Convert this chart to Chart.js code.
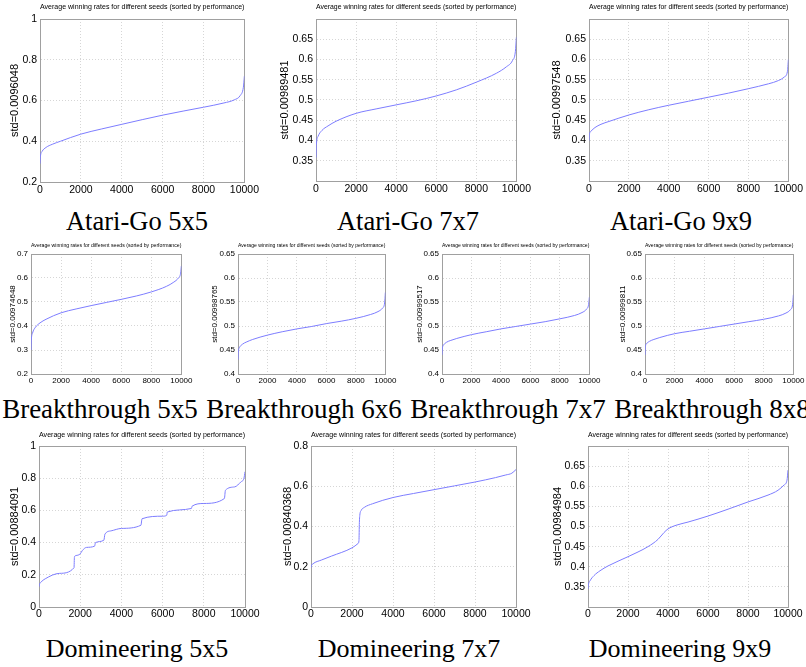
<!DOCTYPE html>
<html>
<head>
<meta charset="utf-8">
<script src="https://cdn.jsdelivr.net/npm/chart.js@4.4.0/dist/chart.umd.min.js"></script>
<style>
  body { margin: 0; background: #fff; }
  #fig { position: relative; width: 806px; height: 667px; overflow: hidden; }
  #fig canvas { position: absolute; }
  .cap { position: absolute; width: 260px; margin-left: -130px; text-align: center; white-space: nowrap;
         font-family: "Liberation Serif", "Times New Roman", serif; line-height: 26px; color: #000; }
</style>
</head>
<body>
<div id="fig"></div>
<script>
const seedRank = [0, 20, 100, 300, 600, 1000, 2000, 3000, 4000, 5000, 6000, 7000, 8000, 9000, 9500, 9800, 9950, 10000];

const atariGo5 = [0.29, 0.325, 0.35, 0.37, 0.385, 0.40, 0.435, 0.46, 0.483, 0.506, 0.528, 0.548, 0.567, 0.588, 0.603, 0.625, 0.665, 0.72];
const atariGo7 = [0.358, 0.39, 0.41, 0.425, 0.436, 0.4475, 0.467, 0.478, 0.488, 0.498, 0.51, 0.525, 0.544, 0.566, 0.582, 0.597, 0.62, 0.655];
const atariGo9 = [0.40, 0.415, 0.423, 0.432, 0.44, 0.447, 0.463, 0.476, 0.487, 0.497, 0.507, 0.517, 0.528, 0.54, 0.548, 0.557, 0.57, 0.60];
const breakthrough5 = [0.30, 0.34, 0.37, 0.395, 0.413, 0.428, 0.455, 0.471, 0.485, 0.498, 0.511, 0.525, 0.542, 0.565, 0.583, 0.60, 0.62, 0.65];
const breakthrough6 = [0.43, 0.445, 0.455, 0.462, 0.467, 0.472, 0.481, 0.488, 0.494, 0.499, 0.505, 0.51, 0.516, 0.524, 0.53, 0.537, 0.548, 0.57];
const breakthrough7 = [0.44, 0.452, 0.46, 0.466, 0.47, 0.474, 0.482, 0.488, 0.494, 0.499, 0.504, 0.509, 0.515, 0.522, 0.528, 0.535, 0.545, 0.56];
const breakthrough8 = [0.44, 0.455, 0.463, 0.468, 0.472, 0.476, 0.484, 0.489, 0.494, 0.499, 0.504, 0.509, 0.514, 0.521, 0.527, 0.534, 0.545, 0.565];

// domineering curves have jumps, so they get their own x
const domi5Rank = [0, 20, 100, 300, 1000, 1700, 1720, 1800, 2000, 2100, 2300, 2700, 2740, 3150, 3200, 3500, 4000, 4950, 5000, 6000, 6200, 6230, 7400, 7430, 8000, 9000, 9050, 9500, 9800, 9950, 10000];
const domineering5 = [0.126, 0.14, 0.155, 0.175, 0.209, 0.244, 0.31, 0.32, 0.33, 0.35, 0.37, 0.378, 0.40, 0.415, 0.452, 0.473, 0.488, 0.508, 0.548, 0.564, 0.57, 0.59, 0.612, 0.626, 0.643, 0.674, 0.725, 0.746, 0.777, 0.80, 0.84];
const domi7Rank = [0, 20, 100, 500, 1000, 2000, 2300, 2340, 2360, 2380, 2450, 2600, 3000, 4000, 5000, 6000, 7000, 8000, 9000, 9500, 9800, 10000];
const domineering7 = [0.195, 0.205, 0.215, 0.233, 0.253, 0.294, 0.316, 0.33, 0.42, 0.455, 0.48, 0.495, 0.513, 0.544, 0.564, 0.583, 0.602, 0.621, 0.643, 0.656, 0.665, 0.683];
const domi9Rank = [0, 20, 100, 300, 600, 1000, 2000, 3000, 3500, 3800, 4000, 4400, 5000, 6000, 7000, 8000, 9000, 9500, 9800, 9950, 10000];
const domineering9 = [0.345, 0.355, 0.365, 0.378, 0.39, 0.402, 0.425, 0.45, 0.468, 0.485, 0.494, 0.503, 0.511, 0.526, 0.543, 0.561, 0.578, 0.59, 0.603, 0.615, 0.64];

const games = ['Atari-Go 5x5', 'Atari-Go 7x7', 'Atari-Go 9x9',
  'Breakthrough 5x5', 'Breakthrough 6x6', 'Breakthrough 7x7', 'Breakthrough 8x8',
  'Domineering 5x5', 'Domineering 7x7', 'Domineering 9x9'];
const stdLabels = ['std=0.0096048', 'std=0.00989481', 'std=0.00997548',
  'std=0.00974648', 'std=0.00998765', 'std=0.00999517', 'std=0.00999811',
  'std=0.00884091', 'std=0.00840368', 'std=0.00984984'];
const seriesX = [seedRank, seedRank, seedRank, seedRank, seedRank, seedRank, seedRank, domi5Rank, domi7Rank, domi9Rank];
const seriesY = [atariGo5, atariGo7, atariGo9, breakthrough5, breakthrough6, breakthrough7, breakthrough8, domineering5, domineering7, domineering9];

// tick labels
const xTicks = [0, 2000, 4000, 6000, 8000, 10000];
const yTicks = [
  [0.2, 0.4, 0.6, 0.8, 1],
  [0.35, 0.4, 0.45, 0.5, 0.55, 0.6, 0.65],
  [0.35, 0.4, 0.45, 0.5, 0.55, 0.6, 0.65],
  [0.2, 0.3, 0.4, 0.5, 0.6, 0.7],
  [0.4, 0.45, 0.5, 0.55, 0.6, 0.65],
  [0.4, 0.45, 0.5, 0.55, 0.6, 0.65],
  [0.4, 0.45, 0.5, 0.55, 0.6, 0.65],
  [0, 0.2, 0.4, 0.6, 0.8, 1],
  [0, 0.2, 0.4, 0.6, 0.8],
  [0.35, 0.4, 0.45, 0.5, 0.55, 0.6, 0.65]
];
const yLimits = [[0.2, 1], [0.3, 0.7], [0.3, 0.7], [0.2, 0.7], [0.4, 0.65], [0.4, 0.65], [0.4, 0.65], [0, 1], [0, 0.8], [0.3, 0.7]];
const titleText = 'Average winning rates for different seeds (sorted by performance)';

// layout: plot box of each panel in page pixels, gap = ylabel centre left of the box
const panels = [
  { row: 0, l: 40, t: 19, r: 245, b: 182, gap: 25, cx: 137 },
  { row: 0, l: 316, t: 19, r: 517, b: 181, gap: 31, cx: 408 },
  { row: 0, l: 589, t: 19, r: 789, b: 181, gap: 32, cx: 681 },
  { row: 1, l: 31, t: 254, r: 183, b: 374, gap: 18, cx: 100 },
  { row: 1, l: 238, t: 254, r: 387, b: 374, gap: 23, cx: 304 },
  { row: 1, l: 442, t: 254, r: 591, b: 374, gap: 22, cx: 508 },
  { row: 1, l: 645, t: 254, r: 795, b: 374, gap: 22, cx: 712 },
  { row: 2, l: 39, t: 446, r: 245, b: 607, gap: 24, cx: 137 },
  { row: 2, l: 311, t: 446, r: 516, b: 607, gap: 23, cx: 409 },
  { row: 2, l: 588, t: 446, r: 788, b: 607, gap: 30, cx: 680 }
];
const rows = [
  { tick: 10.5, ylab: 11, title: 7.3, leftW: 40, topH: 19, rightW: 16, bottomH: 20, titleY: 7, xPad: 2, capTop: 208, capSize: 26.5 },
  { tick: 8, ylab: 8, title: 5.5, leftW: 30, topH: 14, rightW: 11, bottomH: 16, titleY: 5, xPad: 1.5, capTop: 396, capSize: 27 },
  { tick: 10.5, ylab: 11, title: 7.4, leftW: 40, topH: 18, rightW: 16, bottomH: 20, titleY: 7, xPad: 1, capTop: 636, capSize: 26 }
];

const lineBlue = '#7d7dff';
const gridGrey = '#d6d6d6';
const frameGrey = '#a0a0a0';

Chart.defaults.font.family = '"Liberation Sans", Arial, Helvetica, sans-serif';
Chart.defaults.color = '#000';

const fig = document.getElementById('fig');

function drawPanel(i) {
  const p = panels[i];
  const st = rows[p.row];
  const cv = document.createElement('canvas');
  cv.width = st.leftW + (p.r - p.l) + st.rightW;
  cv.height = st.topH + (p.b - p.t) + st.bottomH;
  cv.style.left = (p.l - st.leftW) + 'px';
  cv.style.top = (p.t - st.topH) + 'px';
  fig.appendChild(cv);

  const cap = document.createElement('div');
  cap.className = 'cap';
  cap.textContent = games[i];
  cap.style.left = p.cx + 'px';
  cap.style.top = st.capTop + 'px';
  cap.style.fontSize = st.capSize + 'px';
  fig.appendChild(cap);

  const pts = seriesX[i].map((x, k) => ({ x: x, y: seriesY[i][k] }));

  new Chart(cv, {
    type: 'line',
    data: {
      datasets: [{
        data: pts,
        xAxisID: 'x',
        yAxisID: 'y',
        borderColor: lineBlue,
        borderWidth: 1,
        pointRadius: 0,
        fill: false,
        cubicInterpolationMode: 'monotone'
      }]
    },
    options: {
      responsive: false,
      animation: false,
      devicePixelRatio: 1,
      layout: { padding: 0 },
      plugins: { legend: { display: false }, tooltip: { enabled: false } },
      scales: {
        x: {
          type: 'linear', position: 'bottom', min: 0, max: 10000,
          afterBuildTicks: s => { s.ticks = xTicks.map(v => ({ value: v })); },
          afterFit: s => { s.height = st.bottomH; },
          ticks: { autoSkip: false, maxRotation: 0, padding: st.xPad, font: { size: st.tick }, callback: v => String(v) },
          grid: { color: gridGrey, drawTicks: false },
          border: { display: true, color: frameGrey, dash: [1, 2] }
        },
        y: {
          type: 'linear', position: 'left', min: yLimits[i][0], max: yLimits[i][1],
          afterBuildTicks: s => { s.ticks = yTicks[i].map(v => ({ value: v })); },
          afterFit: s => { s.width = st.leftW; },
          ticks: { autoSkip: false, padding: 3, font: { size: st.tick }, callback: v => String(v) },
          grid: { color: gridGrey, drawTicks: false },
          border: { display: true, color: frameGrey, dash: [1, 2] },
          title: {
            display: true, text: stdLabels[i],
            font: { size: st.ylab, lineHeight: 1 },
            padding: { top: st.leftW - p.gap - st.ylab / 2, bottom: 0 }
          }
        },
        // top axis: carries the small title and the upper frame line
        x2: {
          type: 'linear', position: 'top', min: 0, max: 1,
          afterFit: s => { s.height = st.topH; },
          ticks: { display: false },
          grid: { display: false, drawTicks: false },
          border: { display: true, color: frameGrey },
          title: {
            display: true, text: titleText,
            font: { size: st.title, lineHeight: 1 },
            padding: { top: st.titleY - st.title / 2, bottom: 0 }
          }
        },
        // right axis: only the frame line
        y2: {
          type: 'linear', position: 'right', min: 0, max: 1,
          afterFit: s => { s.width = st.rightW; },
          ticks: { display: false },
          grid: { display: false, drawTicks: false },
          border: { display: true, color: frameGrey }
        }
      }
    }
  });
}

for (let i = 0; i < panels.length; i++) drawPanel(i);
</script>
</body>
</html>
